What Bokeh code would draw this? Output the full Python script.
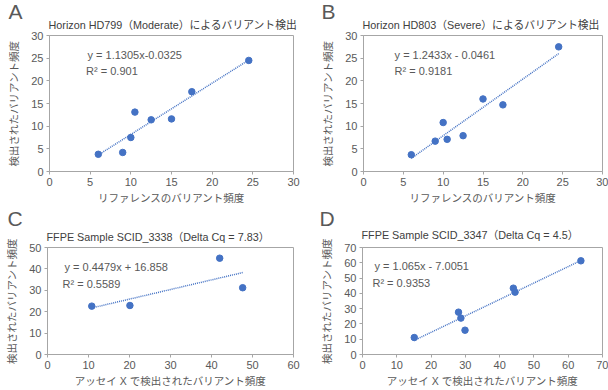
from bokeh.plotting import figure
from bokeh.layouts import column, row
from bokeh.models import Range1d, FixedTicker, Label
from bokeh.embed import file_html
from bokeh.resources import INLINE
import numpy as np

# ---- data ----
A_x = [6, 9, 10, 10.5, 12.5, 15, 17.5, 24.5]
A_y = [3.8, 4.2, 7.5, 13.1, 11.4, 11.6, 17.6, 24.5]
B_x = [6, 9, 10, 10.5, 12.5, 15, 17.5, 24.5]
B_y = [3.7, 6.7, 10.8, 7.1, 7.9, 16.0, 14.7, 27.5]
C_x = [10.8, 20.1, 42, 47.6]
C_y = [22.6, 22.9, 45, 31.2]
D_x = [15.1, 28.0, 28.7, 29.9, 44.0, 44.5, 63.7]
D_y = [11.1, 27.7, 23.8, 15.9, 43.4, 40.8, 61.3]

A_ticks = [0, 5, 10, 15, 20, 25, 30]
C_xticks = [0, 10, 20, 30, 40, 50, 60]
C_yticks = [0, 10, 20, 30, 40, 50]
D_ticks = [0, 10, 20, 30, 40, 50, 60, 70]

titles = ["Horizon HD799（Moderate）によるバリアント検出",
          "Horizon HD803（Severe）によるバリアント検出",
          "FFPE Sample SCID_3338（Delta Cq = 7.83）",
          "FFPE Sample SCID_3347（Delta Cq = 4.5）"]
eqs = ["y = 1.1305x-0.0325", "y = 1.2433x - 0.0461", "y = 0.4479x  + 16.858", "y = 1.065x - 7.0051"]
r2s = ["R² = 0.901", "R² = 0.9181", "R² = 0.5589", "R² = 0.9353"]
letters = ["A", "B", "C", "D"]
xlabels = ["リファレンスのバリアント頻度", "リファレンスのバリアント頻度",
           "アッセイ X で検出されたバリアント頻度", "アッセイ X で検出されたバリアント頻度"]
ylabel = "検出されたバリアント頻度"

BLUE = "#4472C4"
GRAY = "#a6a6a6"
TXT = "#595959"
JP = "Liberation Sans, Noto Sans CJK JP"
NUM = "Liberation Sans"
HT = 9  # approximate height of the title label's panel


def make(xs, ys, xmax, ymax, xt, yt, i, w, h, bl, br, bt, bb, eqpos, r2pos, letter_dx, letter_up, title_up):
    p = figure(width=w, height=h, output_backend="svg", toolbar_location=None,
               x_range=Range1d(0, xmax), y_range=Range1d(0, ymax),
               min_border_left=bl, min_border_right=br, min_border_top=bt, min_border_bottom=bb)
    p.title.text = ""
    p.outline_line_color = GRAY
    p.xgrid.visible = False
    p.ygrid.visible = False
    p.background_fill_color = "white"
    p.border_fill_color = "white"
    for ax, ticks in ((p.xaxis[0], xt), (p.yaxis[0], yt)):
        ax.ticker = FixedTicker(ticks=ticks)
        ax.minor_tick_line_color = None
        ax.major_tick_in = 0
        ax.major_tick_out = 3
        ax.major_tick_line_color = GRAY
        ax.axis_line_color = GRAY
        ax.major_label_text_font = NUM
        ax.major_label_text_font_size = "11px"
        ax.major_label_text_color = TXT
        ax.major_label_standoff = 3
        ax.axis_label_text_font = JP
        ax.axis_label_text_font_size = "10.5px"
        ax.axis_label_text_font_style = "normal"
        ax.axis_label_text_color = TXT
    p.xaxis.axis_label_standoff = 3
    p.yaxis.axis_label_standoff = 8
    p.xaxis.axis_label = xlabels[i]
    p.yaxis.axis_label = ylabel

    # trendline (least squares over data range)
    k, b0 = np.polyfit(xs, ys, 1)
    lx = [min(xs), max(xs)]
    p.line(lx, [k * v + b0 for v in lx], line_color=BLUE, line_width=1.5, line_dash="1 1")
    p.scatter(xs, ys, size=6.5, fill_color=BLUE, line_color=BLUE)

    p.add_layout(Label(x=eqpos[0], y=eqpos[1], text=eqs[i], text_font=NUM, text_font_size="11px",
                       text_color=TXT, text_baseline="middle"))
    p.add_layout(Label(x=r2pos[0], y=r2pos[1], text=r2s[i], text_font=NUM, text_font_size="11px",
                       text_color=TXT, text_baseline="middle"))
    # title label (panel next to the frame), then letter label (outer panel)
    p.add_layout(Label(text=titles[i], x=-1, y=title_up, x_units="screen", y_units="screen",
                       text_font=JP, text_font_size="10.8px", text_color="#404040",
                       text_baseline="middle"), "above")
    p.add_layout(Label(text=letters[i], x=letter_dx, y=letter_up - HT, x_units="screen", y_units="screen",
                       text_font=NUM, text_font_size="21px", text_color=TXT,
                       text_baseline="bottom"), "above")
    return p


pA = make(A_x, A_y, 30, 30, A_ticks, A_ticks, 0, 304, 206, 49, 11, 35, 34,
          (4.67, 25.8), (4.5, 22.1), -41, 10, 11)
pB = make(B_x, B_y, 30, 30, A_ticks, A_ticks, 1, 304, 206, 59, 6, 35, 34,
          (3.9, 25.8), (3.9, 22.1), -42, 10, 11)
pC = make(C_x, C_y, 60, 50, C_xticks, C_yticks, 2, 304, 184, 47, 11, 39, 36,
          (4.15, 40.8), (3.66, 33.0), -40, 15, 11)
pD = make(D_x, D_y, 70, 70, D_ticks, D_ticks, 3, 304, 184, 58, 6, 41, 36,
          (3.5, 58.2), (2.9, 47.1), -43, 15, 13)

layout = column(row(pA, pB), row(pC, pD))
open("out.html", "w").write(file_html(layout, INLINE))
